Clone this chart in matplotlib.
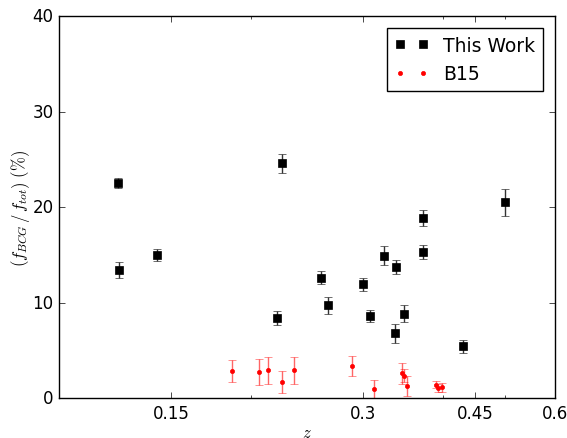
import numpy as np
import matplotlib
matplotlib.use('Agg')
import matplotlib.pyplot as plt
from matplotlib.ticker import FixedLocator, FormatStrFormatter, NullFormatter

plt.style.use('classic')

# This Work
z_tw = [0.1237, 0.1242, 0.1425, 0.2198, 0.2238, 0.2577, 0.2640, 0.2996, 0.3078,
        0.3229, 0.3362, 0.3375, 0.3480, 0.3721, 0.3730, 0.4303, 0.5010]
f_tw = [22.5, 13.4, 15.0, 8.4, 24.6, 12.6, 9.7, 11.9, 8.6,
        14.9, 6.8, 13.75, 8.85, 18.85, 15.25, 5.45, 20.5]
e_tw = [0.5, 0.85, 0.6, 0.7, 1.0, 0.7, 0.9, 0.65, 0.6,
        1.0, 1.0, 0.73, 0.9, 0.87, 0.73, 0.68, 1.43]

# B15
z_b15 = [0.1870, 0.2057, 0.2130, 0.2236, 0.2340, 0.2878, 0.3124,
         0.3449, 0.3478, 0.3512, 0.3905, 0.3937, 0.3984]
f_b15 = [2.8, 2.75, 2.9, 1.64, 2.9, 3.38, 0.94,
         2.58, 2.34, 1.29, 1.39, 1.05, 1.12]
e_b15 = [1.17, 1.38, 1.4, 1.15, 1.45, 1.03, 0.98,
         1.13, 0.7, 1.05, 0.35, 0.4, 0.5]

fig = plt.figure(figsize=(5.67, 4.39), dpi=100)
ax = fig.add_axes([0.104, 0.091, 0.875, 0.870])

# error bars (no legend entry), then markers with labels
ax.errorbar(z_tw, f_tw, yerr=e_tw, fmt='none', ecolor='0.2', capsize=3)
ax.errorbar(z_b15, f_b15, yerr=e_b15, fmt='none', ecolor=(1, 0, 0, 0.6), capsize=3)
ax.plot(z_tw, f_tw, 's', color='k', mec='k', ms=6, label='This Work')
ax.plot(z_b15, f_b15, 'o', color='r', mec='r', ms=3, label='B15')

ax.set_xscale('log')
ax.set_xlim(0.1, 0.6)
ax.set_ylim(0, 40)
ax.xaxis.set_major_locator(FixedLocator([0.15, 0.3, 0.45, 0.6]))
ax.xaxis.set_major_formatter(FormatStrFormatter('%g'))
ax.xaxis.set_minor_locator(FixedLocator([0.2, 0.3, 0.4, 0.5, 0.6]))
ax.xaxis.set_minor_formatter(NullFormatter())
ax.set_yticks([0, 10, 20, 30, 40])

ax.set_xlabel(r'$z$', labelpad=1)
ax.set_ylabel(r'$(f_{BCG}\,/\,f_{tot})\ (\%)$', labelpad=0)

ax.legend(loc='upper right', numpoints=2, fontsize=13.5, borderaxespad=0.65,
          handlelength=1.8)

fig.savefig('out.png', dpi=100)
